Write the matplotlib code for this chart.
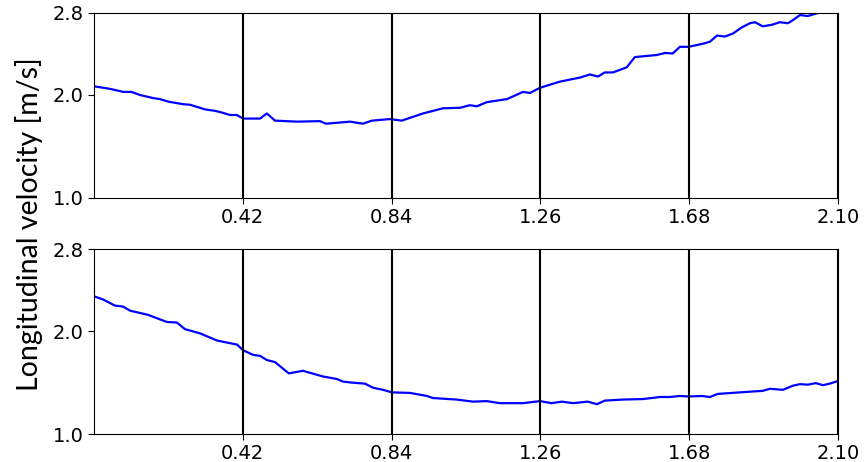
import numpy as np
import matplotlib.pyplot as plt

# longitudinal velocity along the track, two runs
x_top = [0.000, 0.045, 0.083, 0.106, 0.130, 0.167, 0.186, 0.210, 0.252, 0.271,
         0.290, 0.313, 0.342, 0.360, 0.384, 0.403, 0.421, 0.469, 0.488, 0.511,
         0.573, 0.638, 0.655, 0.723, 0.759, 0.785, 0.835, 0.869, 0.929, 0.985,
         1.033, 1.061, 1.081, 1.109, 1.166, 1.211, 1.231, 1.259, 1.315, 1.372,
         1.400, 1.423, 1.442, 1.465, 1.504, 1.527, 1.589, 1.612, 1.634, 1.654,
         1.679, 1.719, 1.739, 1.759, 1.781, 1.804, 1.829, 1.852, 1.866, 1.888,
         1.914, 1.936, 1.959, 1.973, 1.993, 2.015, 2.044, 2.077, 2.100]
v_top = [2.085, 2.06, 2.03, 2.03, 2.00, 1.97, 1.96, 1.935, 1.91, 1.905,
         1.885, 1.86, 1.845, 1.83, 1.805, 1.805, 1.77, 1.77, 1.82, 1.75,
         1.74, 1.745, 1.72, 1.74, 1.72, 1.75, 1.765, 1.75, 1.82, 1.87,
         1.875, 1.90, 1.89, 1.93, 1.96, 2.03, 2.02, 2.07, 2.13, 2.17,
         2.20, 2.18, 2.22, 2.22, 2.27, 2.37, 2.39, 2.41, 2.405, 2.47,
         2.47, 2.50, 2.52, 2.58, 2.57, 2.60, 2.66, 2.70, 2.71, 2.67,
         2.685, 2.71, 2.70, 2.73, 2.78, 2.77, 2.80, 2.83, 2.85]

x_bot = [0.000, 0.025, 0.059, 0.082, 0.102, 0.152, 0.206, 0.234, 0.257, 0.299,
         0.347, 0.375, 0.404, 0.421, 0.449, 0.469, 0.488, 0.511, 0.550, 0.590,
         0.646, 0.686, 0.703, 0.728, 0.765, 0.788, 0.816, 0.841, 0.892, 0.940,
         0.957, 1.024, 1.070, 1.109, 1.146, 1.211, 1.259, 1.292, 1.321, 1.352,
         1.394, 1.420, 1.442, 1.493, 1.550, 1.598, 1.626, 1.654, 1.679, 1.716,
         1.739, 1.761, 1.823, 1.888, 1.908, 1.945, 1.973, 1.993, 2.015, 2.038,
         2.058, 2.077, 2.100]
v_bot = [2.34, 2.31, 2.25, 2.24, 2.20, 2.16, 2.09, 2.085, 2.02, 1.98,
         1.91, 1.89, 1.87, 1.815, 1.77, 1.76, 1.72, 1.70, 1.59, 1.615,
         1.56, 1.535, 1.51, 1.50, 1.49, 1.45, 1.43, 1.405, 1.40, 1.37,
         1.35, 1.335, 1.315, 1.32, 1.30, 1.30, 1.32, 1.30, 1.315, 1.30,
         1.315, 1.29, 1.325, 1.335, 1.34, 1.36, 1.36, 1.37, 1.365, 1.37,
         1.36, 1.39, 1.405, 1.42, 1.44, 1.43, 1.47, 1.485, 1.48, 1.495,
         1.475, 1.49, 1.515]

xticks = [0.42, 0.84, 1.26, 1.68, 2.10]
yticks = [1.0, 2.0, 2.8]

fig = plt.figure(figsize=(8.66, 4.62), dpi=100)
ax_top = fig.add_axes([0.1085, 0.5725, 0.859, 0.3994])
ax_bot = fig.add_axes([0.1085, 0.0606, 0.859, 0.4004])

for ax, xs, vs in [(ax_top, x_top, v_top), (ax_bot, x_bot, v_bot)]:
    ax.plot(xs, vs, color='blue', lw=1.6)
    for xt in xticks:
        ax.axvline(xt, color='black', lw=1.5)
    ax.set_xlim(0, 2.10)
    ax.set_ylim(1.0, 2.8)
    ax.set_xticks(xticks)
    ax.set_xticklabels(['%.2f' % t for t in xticks])
    ax.set_yticks(yticks)
    ax.set_yticklabels(['%.1f' % t for t in yticks])
    ax.tick_params(labelsize=14, length=4)

fig.text(0.033, 0.515, 'Longitudinal velocity [m/s]', rotation=90,
         va='center', ha='center', fontsize=20.5, family=['Lato', 'DejaVu Sans'])

fig.savefig('out.png', dpi=100)
